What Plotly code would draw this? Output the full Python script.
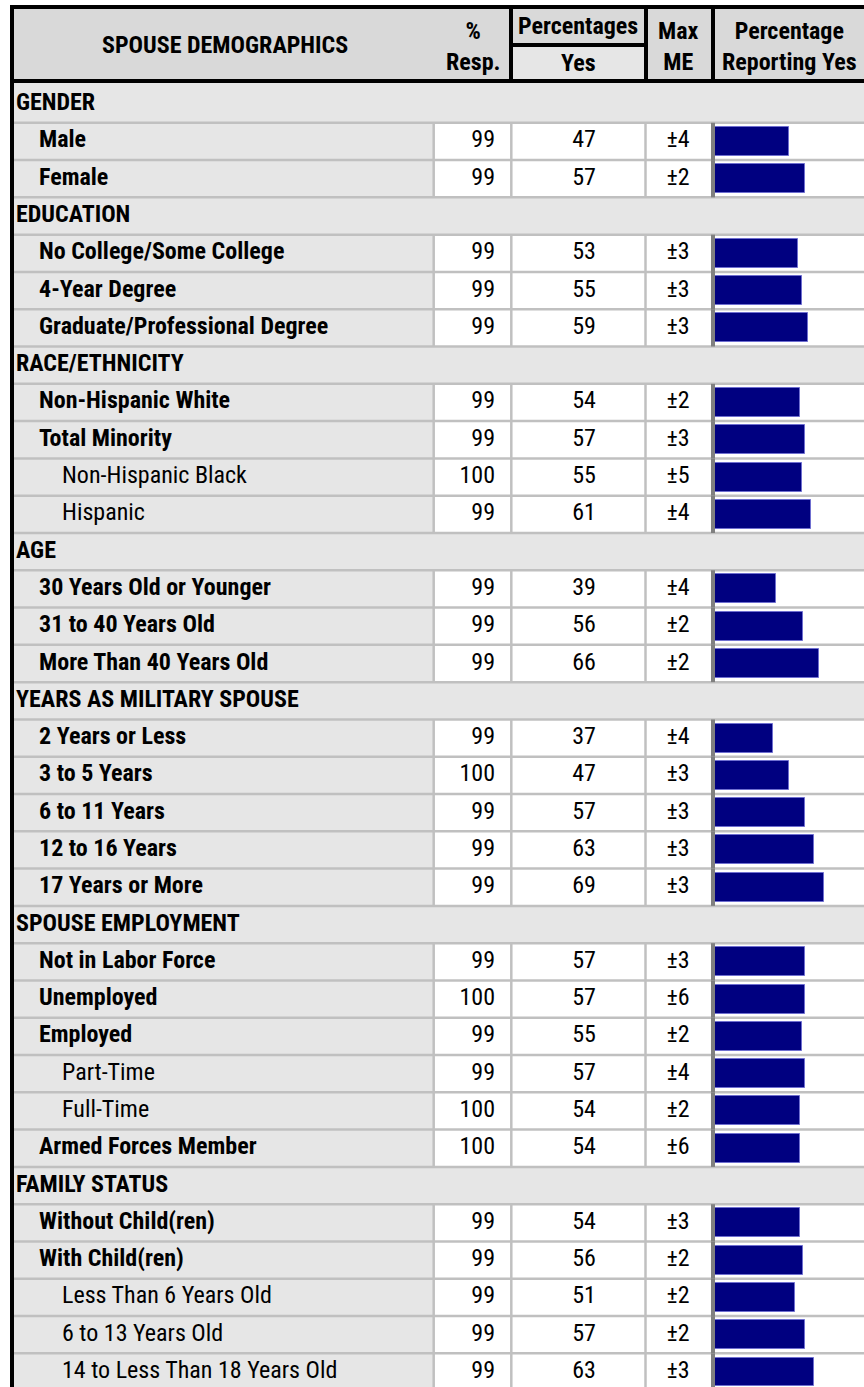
import plotly.graph_objects as go

# ---------------- data ----------------
labels = [
    "GENDER", "Male", "Female",
    "EDUCATION", "No College/Some College", "4-Year Degree", "Graduate/Professional Degree",
    "RACE/ETHNICITY", "Non-Hispanic White", "Total Minority", "Non-Hispanic Black", "Hispanic",
    "AGE", "30 Years Old or Younger", "31 to 40 Years Old", "More Than 40 Years Old",
    "YEARS AS MILITARY SPOUSE", "2 Years or Less", "3 to 5 Years", "6 to 11 Years",
    "12 to 16 Years", "17 Years or More",
    "SPOUSE EMPLOYMENT", "Not in Labor Force", "Unemployed", "Employed", "Part-Time",
    "Full-Time", "Armed Forces Member",
    "FAMILY STATUS", "Without Child(ren)", "With Child(ren)", "Less Than 6 Years Old",
    "6 to 13 Years Old", "14 to Less Than 18 Years Old",
]
levels = [0, 1, 1,
          0, 1, 1, 1,
          0, 1, 1, 2, 2,
          0, 1, 1, 1,
          0, 1, 1, 1, 1, 1,
          0, 1, 1, 1, 2, 2, 1,
          0, 1, 1, 2, 2, 2]
resp = [None, 99, 99,
        None, 99, 99, 99,
        None, 99, 99, 100, 99,
        None, 99, 99, 99,
        None, 99, 100, 99, 99, 99,
        None, 99, 100, 99, 99, 100, 100,
        None, 99, 99, 99, 99, 99]
yes = [None, 47, 57,
       None, 53, 55, 59,
       None, 54, 57, 55, 61,
       None, 39, 56, 66,
       None, 37, 47, 57, 63, 69,
       None, 57, 57, 55, 57, 54, 54,
       None, 54, 56, 51, 57, 63]
max_me = [None, 4, 2,
          None, 3, 3, 3,
          None, 2, 3, 5, 4,
          None, 4, 2, 2,
          None, 4, 3, 3, 3, 3,
          None, 3, 6, 2, 4, 2, 6,
          None, 3, 2, 2, 2, 3]

# ---------------- layout constants ----------------
W, H = 864, 1387
ROW0, PITCH = 85.5, 37.29
FONT = "Roboto Condensed, Liberation Sans Narrow, Arial Narrow, Arial, sans-serif"
FS = 24
HDR_BG, CELL_BG, GRID, DARK = "#d9d9d9", "#e6e6e6", "#c0c0c0", "#808080"
X_LBL_END, X_RESP_END, X_YES_END, X_ME_END = 433.7, 511.3, 645.5, 713
BAR_X0, BAR_SCALE = 715, 1.574


def py(p):
    return 1 - p / H


n = len(labels)
data_idx = [i for i in range(n) if levels[i] > 0]

shapes = []


def rect(x0, x1, y0, y1, fill, yref="paper"):
    shapes.append(dict(type="rect", xref="x", yref=yref, x0=x0, x1=x1, y0=y0, y1=y1,
                       fillcolor=fill, line=dict(width=0), layer="below"))


def line(x0, x1, y0, y1, color, w, yref="paper"):
    shapes.append(dict(type="line", xref="x", yref=yref, x0=x0, x1=x1, y0=y0, y1=y1,
                       line=dict(color=color, width=w), layer="below"))


# body background
rect(14, W, py(83), py(H), CELL_BG)
# header background
rect(14, W, py(9), py(79), HDR_BG)
rect(511, 646, py(47), py(79), CELL_BG)
# data cells white
for i in data_idx:
    rect(X_LBL_END, W, i - 0.5, i + 0.5, "white", yref="y")
# horizontal grid lines
for k in range(1, n + 1):
    line(14, W, k - 0.5, k - 0.5, GRID, 2.5, yref="y")
# vertical grid lines in data rows
for i in data_idx:
    for xv in (X_LBL_END, X_RESP_END, X_YES_END):
        line(xv, xv, i - 0.5, i + 0.5, GRID, 2.5, yref="y")
    line(X_ME_END, X_ME_END, i - 0.5, i + 0.5, DARK, 4, yref="y")
# black borders
line(10, W, py(7), py(7), "black", 4)
line(12, 12, py(5), py(H), "black", 4)
line(10, W, py(81), py(81), "black", 4)
for xv in (511, 646, 713):
    line(xv, xv, py(9), py(79), "black", 4)
line(511, 646, py(45), py(45), "black", 4)

fig = go.Figure()

# bars
fig.add_trace(go.Bar(
    x=yes, y=labels, orientation="h", xaxis="x2", yaxis="y",
    width=0.777, marker=dict(color="#000080", line=dict(color="#6f6fd0", width=1)),
    hoverinfo="skip", showlegend=False,
))

# label column text
indent = [16, 39, 62]
lbl_text = [("<b>%s</b>" % t) if lv < 2 else t for t, lv in zip(labels, levels)]
fig.add_trace(go.Scatter(
    x=[indent[lv] for lv in levels], y=labels, mode="text", text=lbl_text,
    textposition="middle right", textfont=dict(family=FONT, size=FS, color="black"),
    hoverinfo="skip", showlegend=False,
))
dl = [labels[i] for i in data_idx]
fig.add_trace(go.Scatter(
    x=[495] * len(dl), y=dl, mode="text", text=[str(resp[i]) for i in data_idx],
    textposition="middle left", textfont=dict(family=FONT, size=FS, color="black"),
    hoverinfo="skip", showlegend=False,
))
fig.add_trace(go.Scatter(
    x=[584] * len(dl), y=dl, mode="text", text=[str(yes[i]) for i in data_idx],
    textposition="middle center", textfont=dict(family=FONT, size=FS, color="black"),
    hoverinfo="skip", showlegend=False,
))
fig.add_trace(go.Scatter(
    x=[678] * len(dl), y=dl, mode="text", text=["±%d" % max_me[i] for i in data_idx],
    textposition="middle center", textfont=dict(family=FONT, size=FS, color="black"),
    hoverinfo="skip", showlegend=False,
))

# header annotations
hdr = [
    ("<b>SPOUSE DEMOGRAPHICS</b>", 225, 45),
    ("<b>%<br>Resp.</b>", 473, 46),
    ("<b>Percentages</b>", 578, 26),
    ("<b>Yes</b>", 578, 63),
    ("<b>Max<br>ME</b>", 678, 46),
    ("<b>Percentage<br>Reporting Yes</b>", 789, 46),
]
annotations = [dict(text=t, x=x, y=py(y), xref="x", yref="paper", showarrow=False,
                    xanchor="center", yanchor="middle",
                    font=dict(family=FONT, size=FS, color="black"))
               for t, x, y in hdr]

fig.update_layout(
    width=W, height=H, autosize=False,
    margin=dict(l=0, r=0, t=0, b=0, pad=0),
    paper_bgcolor="white", plot_bgcolor="rgba(0,0,0,0)",
    shapes=shapes, annotations=annotations,
    showlegend=False, bargap=0,
    xaxis=dict(domain=[0, 1], range=[0, W], visible=False, fixedrange=True),
    xaxis2=dict(domain=[BAR_X0 / W, 1], range=[0, (W - BAR_X0) / BAR_SCALE],
                visible=False, anchor="y", fixedrange=True),
    yaxis=dict(type="category", categoryorder="array", categoryarray=labels,
               range=[(H - ROW0) / PITCH - 0.5, (0 - ROW0) / PITCH - 0.5],
               visible=False, fixedrange=True),
)

fig.write_html("out.html", config={"displayModeBar": False},
               post_script="document.body.style.margin='0';")
